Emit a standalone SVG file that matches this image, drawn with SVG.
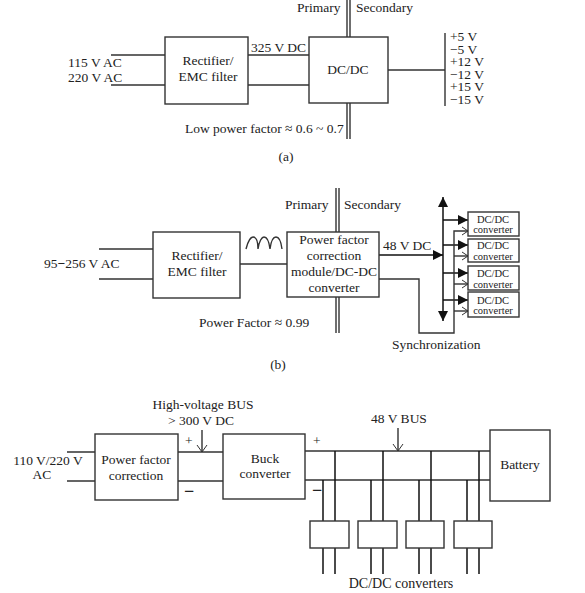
<svg xmlns="http://www.w3.org/2000/svg" width="585" height="593" viewBox="0 0 585 593">
<style>
text{font-family:"Liberation Serif","DejaVu Serif",serif;font-size:13.5px;fill:#222}
.m{text-anchor:middle}
.s{font-size:10.5px}
.w{font-weight:bold}
.d{font-weight:bold;font-size:18px}
.b{fill:#fff;stroke:#333;stroke-width:1.4}
.l{fill:none;stroke:#333;stroke-width:1.4}
.k{fill:none;stroke:#111;stroke-width:1.5}
</style>
<defs>
<marker id="f" markerUnits="userSpaceOnUse" markerWidth="10" markerHeight="10" refX="10" refY="5" orient="auto"><path d="M0 0L10 5L0 10Z" fill="#111"/></marker>
<marker id="o" markerUnits="userSpaceOnUse" markerWidth="8" markerHeight="10" refX="7" refY="5" orient="auto"><path d="M1 1L7 5L1 9" fill="none" stroke="#333"/></marker>
<marker id="a" markerUnits="userSpaceOnUse" markerWidth="8" markerHeight="12" refX="7" refY="6" orient="auto"><path d="M0 1L7 6L0 11" fill="none" stroke="#333"/></marker>
</defs>
<g id="connectors">
<path class="l" d="M347 0V37M350 0V37M347 103V139M350 103V139M111 55H165M111 85H165M248 55H309M248 85H309M388 70H445M445 33V106"/>
<path class="l" d="M336 188V232M339 188V232M336 297V333M339 297V333M99 249H153M99 279H153M240 264H287"/>
<path class="l" d="M246 249C248 241 251 237 253 237C256 237 258 241 258 249C259 241 262 237 264 237C267 237 269 241 270 249C271 241 273 237 276 237C279 237 281 241 282 249"/>
<path class="k" d="M379 255H443" marker-end="url(#f)"/>
<path class="k" d="M443 240V197" marker-end="url(#f)"/>
<path class="k" d="M443 240V321" marker-end="url(#f)"/>
<path class="k" d="M443 220H468" marker-end="url(#f)"/>
<path class="k" d="M443 245H468" marker-end="url(#f)"/>
<path class="k" d="M443 273H468" marker-end="url(#f)"/>
<path class="k" d="M443 300H468" marker-end="url(#f)"/>
<path class="l" d="M379 279H419V333H454V231H468" marker-end="url(#o)"/>
<path class="l" d="M454 256H468" marker-end="url(#o)"/>
<path class="l" d="M454 284H468" marker-end="url(#o)"/>
<path class="l" d="M454 311H468" marker-end="url(#o)"/>
<path class="l" d="M67 452H95M67 481H95M178 452H223M178 481H223M305 451H490M305 480H490"/>
<path class="l" d="M202 430V452" marker-end="url(#a)"/>
<path class="l" d="M398 428V451" marker-end="url(#a)"/>
<path class="k" d="M323 480V521M335 451V521M371 480V521M383 451V521M419 480V521M431 451V521M467 480V521M479 451V521M323 548V574M335 548V574M371 548V574M383 548V574M419 548V574M431 548V574M467 548V574M479 548V574"/>
</g>
<g id="a-rectifier"><rect class="b" x="165" y="37" width="83" height="67"/><text class="m" x="208" y="65">Rectifier/</text><text class="m" x="208" y="81">EMC filter</text></g>
<g id="a-dcdc"><rect class="b" x="309" y="37" width="79" height="66"/><text class="m" x="348" y="74">DC/DC</text></g>
<g id="b-rectifier"><rect class="b" x="153" y="232" width="87" height="66"/><text class="m" x="197" y="260">Rectifier/</text><text class="m" x="197" y="276">EMC filter</text></g>
<g id="b-pfc"><rect class="b" x="287" y="232" width="92" height="65"/><text class="m" x="334" y="244">Power factor</text><text class="m" x="334" y="260">correction</text><text class="m" x="334" y="276">module/DC-DC</text><text class="m" x="334" y="292">converter</text></g>
<g id="b-conv1"><rect class="b" x="468" y="212" width="51" height="24"/><text class="m s" x="493" y="223">DC/DC</text><text class="m s" x="493" y="233">converter</text></g>
<g id="b-conv2"><rect class="b" x="468" y="239" width="51" height="23"/><text class="m s" x="493" y="249">DC/DC</text><text class="m s" x="493" y="260">converter</text></g>
<g id="b-conv3"><rect class="b" x="468" y="266" width="51" height="24"/><text class="m s" x="493" y="277">DC/DC</text><text class="m s" x="493" y="288">converter</text></g>
<g id="b-conv4"><rect class="b" x="468" y="292" width="51" height="25"/><text class="m s" x="493" y="304">DC/DC</text><text class="m s" x="493" y="314">converter</text></g>
<g id="c-pfc"><rect class="b" x="95" y="434" width="83" height="66"/><text class="m" x="136" y="464">Power factor</text><text class="m" x="136" y="480">correction</text></g>
<g id="c-buck"><rect class="b" x="223" y="434" width="82" height="65"/><text class="m" x="265" y="463">Buck</text><text class="m" x="265" y="478">converter</text></g>
<g id="c-battery"><rect class="b" x="490" y="430" width="60" height="71"/><text class="m" x="520" y="469">Battery</text></g>
<g id="c-conv1"><rect class="b" x="310" y="521" width="39" height="27"/></g>
<g id="c-conv2"><rect class="b" x="358" y="521" width="39" height="27"/></g>
<g id="c-conv3"><rect class="b" x="406" y="521" width="38" height="27"/></g>
<g id="c-conv4"><rect class="b" x="454" y="521" width="38" height="27"/></g>
<g id="labels">
<text x="297" y="12">Primary</text><text x="356" y="12">Secondary</text>
<text x="68" y="67">115 V AC</text><text x="68" y="82">220 V AC</text>
<text x="251" y="52">325 V DC</text>
<text><tspan x="450" y="41">+5 V</tspan><tspan x="450" y="53.6">−5 V</tspan><tspan x="450" y="66">+12 V</tspan><tspan x="450" y="78.6">−12 V</tspan><tspan x="450" y="91">+15 V</tspan><tspan x="450" y="104">−15 V</tspan></text>
<text x="185" y="133">Low power factor ≈ 0.6 ~ 0.7</text>
<text class="m" x="286" y="161">(a)</text>
<text x="285" y="209">Primary</text><text x="344" y="209">Secondary</text>
<text x="44" y="268">95<tspan class="w">−</tspan>256 V AC</text>
<text x="383" y="250">48 V DC</text>
<text x="199" y="327">Power Factor ≈ 0.99</text>
<text x="392" y="349" font-size="14">Synchronization</text>
<text class="m" x="278" y="369">(b)</text>
<text class="m" x="203" y="409">High-voltage BUS</text><text class="m" x="201" y="425">&gt; 300 V DC</text>
<text x="185" y="445">+</text><text class="d" x="184" y="497">−</text>
<text class="m" x="48" y="465">110 V/220 V</text><text class="m" x="42" y="479">AC</text>
<text x="313" y="445">+</text><text class="d" x="312" y="496">−</text>
<text class="m" x="399" y="423">48 V BUS</text>
<text class="m" x="401" y="588" style="font-size:14px">DC/DC converters</text>
</g>
</svg>
